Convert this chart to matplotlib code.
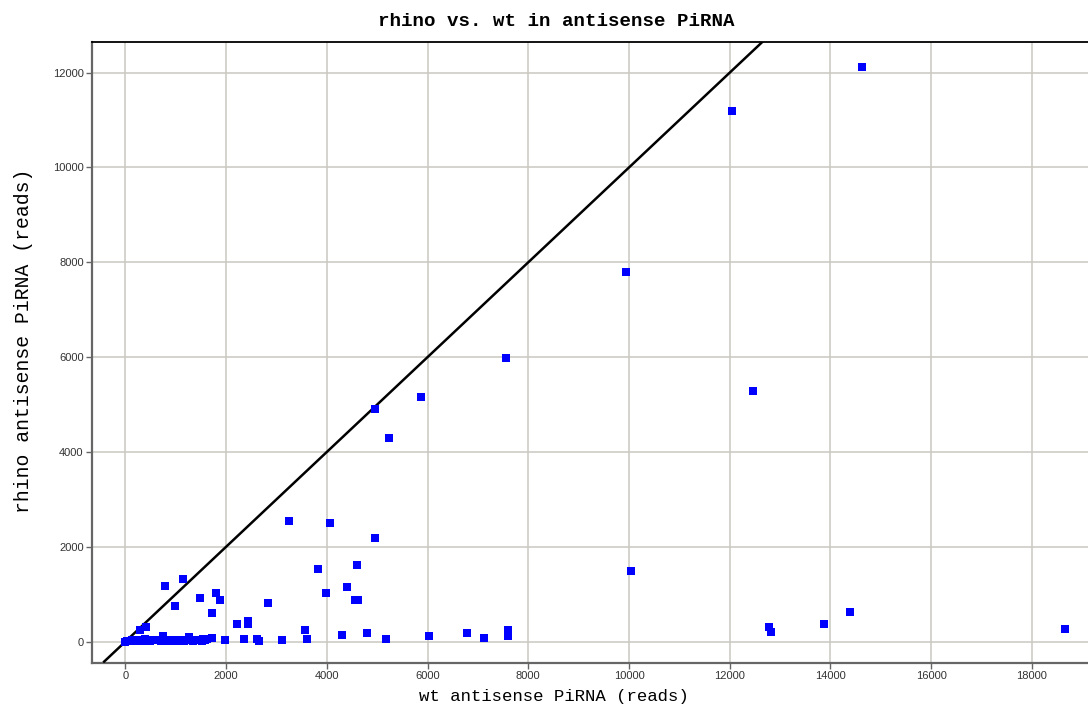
import matplotlib
matplotlib.use("Agg")
import matplotlib.pyplot as plt

# data (wt reads, rhino reads)
wt = [14620, 12040, 9950, 12470, 7560, 5875, 4960, 5240, 10030, 3250,
      4065, 4960, 4605, 3835, 4400, 3975, 4570, 4625, 1800, 1875,
      1485, 2830, 1730, 795, 1150, 980, 2210, 2445, 2445, 3560,
      4295, 4795, 5180, 6030, 6785, 7130, 7600, 7600, 12770, 12815,
      13870, 14390, 18650, 290, 405, 1980, 2365, 2620, 2655, 3105, 3610,
      0, 30, 66, 100, 127, 160, 193, 230, 264, 300, 326, 360, 391, 430,
      463, 500, 530, 600, 657, 700, 743, 780, 822, 870, 922, 987, 1020,
      1059, 1090, 1120, 1160, 1186, 1230, 1271, 1310, 1351, 1390, 1418,
      1484, 1520, 1550, 1590, 1616, 1716]
rhino = [12120, 11200, 7800, 5290, 5975, 5170, 4915, 4305, 1485, 2555,
         2495, 2195, 1620, 1540, 1155, 1030, 885, 885, 1035, 885,
         915, 815, 600, 1180, 1330, 745, 380, 435, 375, 255,
         135, 185, 60, 110, 185, 85, 245, 120, 315, 200,
         365, 630, 265, 240, 310, 40, 55, 55, 15, 35, 55,
         0, 10, 20, 15, 30, 25, 35, 20, 40, 30, 45, 25, 50, 35,
         40, 20, 45, 30, 40, 25, 110, 30, 35, 20, 40, 25, 45,
         30, 20, 35, 25, 40, 30, 90, 35, 25, 40, 30,
         45, 20, 55, 40, 65, 75]

diag_range = [-420, 13000]   # y = x reference line
x_ticks = list(range(0, 18001, 2000))
y_ticks = list(range(0, 12001, 2000))

title = "rhino vs. wt in antisense PiRNA"
xlabel = "wt antisense PiRNA (reads)"
ylabel = "rhino antisense PiRNA (reads)"

W, H = 1088, 711
fig = plt.figure(figsize=(W / 100, H / 100), dpi=100)
ax = fig.add_axes([92/W, 1 - 662.7/H, 1 - 92/W, (662.7 - 41.7)/H])

ax.set_xlim(-661, 19112)
ax.set_ylim(-443, 12652)

ax.grid(True, color="#cac8c0", linewidth=1.1)
ax.set_axisbelow(True)

ax.plot(diag_range, diag_range, color="black", linewidth=1.8, zorder=3)
ax.scatter(wt, rhino, marker="s", s=26, color="#0000ff", linewidths=0, zorder=4)

ax.set_xticks(x_ticks)
ax.set_yticks(y_ticks)
ax.tick_params(axis="both", direction="out", length=4, width=1, color="#666666",
               labelsize=8, labelcolor="#333333", pad=2)
for lab in ax.get_xticklabels() + ax.get_yticklabels():
    lab.set_family("Liberation Sans")

for side in ("left", "bottom"):
    ax.spines[side].set_color("#666666")
    ax.spines[side].set_linewidth(1.6)
ax.spines["top"].set_color("black")
ax.spines["top"].set_linewidth(1.3)
ax.spines["right"].set_visible(False)

fig.text(556/W, 1 - 21/H, title, fontsize=13.8, fontweight="bold",
         family="Liberation Mono", ha="center", va="center")
fig.text(554/W, 1 - 697/H, xlabel, fontsize=12.5,
         family="Liberation Mono", ha="center", va="center")
fig.text(24/W, 1 - 341/H, ylabel, fontsize=14.2, rotation=90,
         family="Liberation Mono", ha="center", va="center")

fig.savefig("out.png", dpi=100)
